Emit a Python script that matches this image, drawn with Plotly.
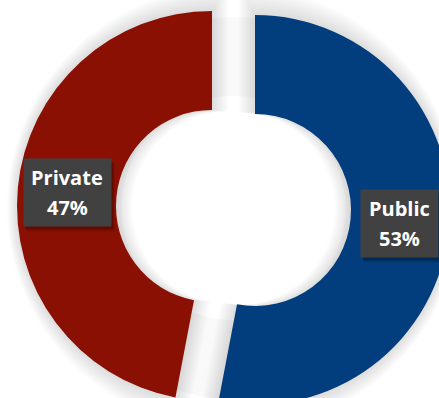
import math
import plotly.graph_objects as go

# Ownership split
categories = ["Public", "Private"]
values = [53, 47]
slice_colors = ["#023E7D", "#8B1004"]

# Canvas / geometry (pixels)
FIG_W, FIG_H = 480, 480
SHIFT_Y = 30                      # canvas is slid up so the ring bleeds off the page
CX, CY = 233.5, 208 + SHIFT_Y     # ring centre inside the canvas
R_OUT, R_IN = 195.0, 96.0         # ring radii
PULL_PX = 21.6                    # explode distance of each slice


def pie_domain(radius, pull_px):
    half = radius + pull_px
    return dict(
        x=[(CX - half) / FIG_W, (CX + half) / FIG_W],
        y=[1 - (CY + half) / FIG_H, 1 - (CY - half) / FIG_H],
    )


fig = go.Figure()

# faint fill in the gaps between the exploded slices
fig.add_trace(go.Pie(
    labels=categories, values=values, sort=False, direction="clockwise",
    domain=pie_domain(R_OUT - 4, 0), hole=112 / (R_OUT - 4),
    marker=dict(colors=["rgba(0,0,0,0.022)"] * 2, line=dict(width=0)),
    textinfo="none", hoverinfo="skip", showlegend=False,
))
# soft halo around each slice
for i in range(1, 12):
    t = 1.5 * i
    r = R_OUT + 1.6 * t
    p = PULL_PX - t
    fig.add_trace(go.Pie(
        labels=categories, values=values, sort=False, direction="clockwise",
        domain=pie_domain(r, p), hole=R_IN / r, pull=p / r,
        marker=dict(colors=["rgba(0,0,0,0.0105)"] * 2, line=dict(width=0)),
        textinfo="none", hoverinfo="skip", showlegend=False,
    ))

# the exploded doughnut itself
fig.add_trace(go.Pie(
    labels=categories, values=values, sort=False, direction="clockwise",
    domain=pie_domain(R_OUT, PULL_PX), hole=R_IN / R_OUT, pull=PULL_PX / R_OUT,
    marker=dict(colors=slice_colors, line=dict(width=0)),
    textinfo="none", hoverinfo="skip", showlegend=False,
))

# data labels: dark boxes centred on each slice, midway across the ring
box_w = {"Public": 77, "Private": 87}
box_h = 67
total = sum(values)
cum = 0.0
label_font = dict(family="Open Sans", size=20, color="white", weight="bold")
for name, v in zip(categories, values):
    theta = 2 * math.pi * (cum + v / 2) / total
    cum += v
    dist = PULL_PX + (R_OUT + R_IN) / 2
    lx = CX + dist * math.sin(theta)
    ly = CY - dist * math.cos(theta)
    xp, yp = lx / FIG_W, 1 - ly / FIG_H
    common = dict(xref="paper", yref="paper", x=xp, y=yp, showarrow=False,
                  xanchor="center", yanchor="middle")
    for dx, dy, a in [(3, -5, 0.12), (2, -3, 0.2)]:
        fig.add_annotation(text=" ", width=box_w[name], height=box_h,
                           bgcolor=f"rgba(0,0,0,{a})", borderpad=0,
                           xshift=dx, yshift=dy, **common)
    fig.add_annotation(text=" ", width=box_w[name], height=box_h,
                       bgcolor="#414141", borderpad=0, **common)
    fig.add_annotation(text=name, font=label_font, yshift=15, **common)
    fig.add_annotation(text=f"{round(100 * v / total)}%", font=label_font,
                       yshift=-15, **common)

fig.update_layout(
    width=FIG_W, height=FIG_H, autosize=False,
    margin=dict(l=0, r=0, t=0, b=0),
    paper_bgcolor="white", plot_bgcolor="white",
    showlegend=False,
)

page_js = (
    "var gd=document.getElementById('{plot_id}');"
    "document.documentElement.style.overflow='hidden';"
    "document.body.style.overflow='hidden';"
    "document.body.style.margin='0';"
    "gd.style.position='absolute';gd.style.left='0px';"
    f"gd.style.top='-{SHIFT_Y}px';"
)
fig.write_html("out.html", post_script=page_js)
